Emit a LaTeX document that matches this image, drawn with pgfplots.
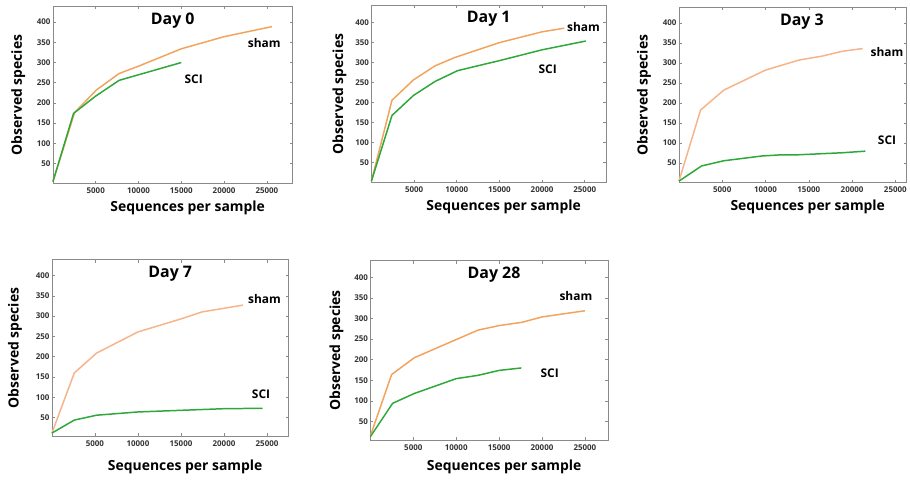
\documentclass[border=0pt]{standalone}
\usepackage{pgfplots}
\pgfplotsset{compat=1.18}
\usepackage{fontspec}
\setmainfont{Open Sans}
\definecolor{shamcol}{HTML}{F2A35E}
\definecolor{shamlight}{HTML}{F6B48A}
\definecolor{scicol}{HTML}{2EA83A}
\definecolor{framecol}{HTML}{8A8A8A}

\tikzset{ann/.style={font=\fontsize{12}{14}\selectfont\bfseries, text=black}}
\pgfplotsset{
  panel/.style={
    scale only axis,
    axis line style={framecol, line width=0.8pt},
    xmin=0, ymin=0,
    xtick={5000,10000,15000,20000,25000},
    ytick={50,100,...,400},
    tick pos=both, tick align=inside,
    major tick length=3bp,
    tick style={framecol, line width=0.5pt},
    scaled x ticks=false,
    /pgf/number format/assume math mode=true,
    /pgf/number format/set thousands separator={},
    tick label style={font=\fontsize{8}{9}\selectfont\bfseries, text=black!80},
    xticklabel style={yshift=-0.5bp},
    yticklabel style={xshift=1bp},
    title style={at={(axis description cs:0.5,1)}, anchor=north, yshift=-9bp,
      font=\fontsize{16}{18}\selectfont\bfseries},
    xlabel={Sequences per sample},
    ylabel={Observed species},
    every axis x label/.style={at={(axis description cs:0.5,0)}, anchor=center,
      yshift=-24bp, xshift=15bp, font=\fontsize{14}{16}\selectfont\bfseries},
    every axis y label/.style={at={(axis description cs:-0.145,0.5)}, anchor=center,
      rotate=90, font=\fontsize{14}{16}\selectfont\bfseries},
    clip=false,
  },
}

\begin{document}
\begin{tikzpicture}
\path (0,0) rectangle (910bp,-481bp);

% Day 0
\begin{axis}[panel, at={(53bp,-184bp)}, anchor=south west,
  width=240bp, height=178bp, xmax=28000, ymax=440, title={Day 0}]
\addplot[shamcol, line width=1.5pt] coordinates {
  (0,5) (2530,176) (5080,232) (7745,273) (10000,291) (15000,334) (20000,364) (25600,389)};
\addplot[scicol, line width=1.5pt] coordinates {
  (0,5) (2410,174) (5000,217) (7745,256) (15000,300)};
\node[ann] at (axis cs:24700,349) {sham};
\node[ann] at (axis cs:16450,259) {SCI};
\end{axis}

% Day 1
\begin{axis}[panel, at={(372bp,-183bp)}, anchor=south west,
  width=235bp, height=178bp, xmax=27500, ymax=444, title={Day 1},
  every axis y label/.append style={at={(axis description cs:-0.136,0.5)}}]
\addplot[shamcol, line width=1.5pt] coordinates {
  (0,4) (2408,206) (4930,257) (7460,292) (9790,313) (15000,350) (20000,377) (22600,386)};
\addplot[scicol, line width=1.5pt] coordinates {
  (0,4) (2408,168) (4930,218) (7460,253) (10100,280) (15000,305) (20000,332) (25130,354)};
\node[ann] at (axis cs:24850,390) {sham};
\node[ann] at (axis cs:20660,284) {SCI};
\end{axis}

% Day 3
\begin{axis}[panel, at={(680bp,-183bp)}, anchor=south west,
  width=228bp, height=176bp, xmax=26300, ymax=440, title={Day 3},
  title style={at={(axis description cs:0.54,1)}},
  every axis y label/.append style={at={(axis description cs:-0.153,0.5)}}]
\addplot[shamlight, line width=1.5pt] coordinates {
  (0,4) (2500,182) (5190,232) (10000,282) (13850,307) (16540,317) (18850,329) (21230,336)};
\addplot[scicol, line width=1.5pt] coordinates {
  (0,4) (2615,42) (5190,55) (9620,67) (11920,70) (13850,70) (18850,75) (21540,79)};
\node[ann] at (axis cs:24040,327) {sham};
\node[ann] at (axis cs:24040,106) {SCI};
\end{axis}

% Day 7
\begin{axis}[panel, at={(52bp,-437bp)}, anchor=south west,
  width=237bp, height=177bp, xmax=27500, ymin=4, ymax=439, title={Day 7},
  every axis x label/.append style={yshift=-7bp},
  every axis y label/.append style={at={(axis description cs:-0.156,0.5)}}]
\addplot[shamlight, line width=1.5pt] coordinates {
  (0,12) (2600,160) (5200,209) (10000,261) (15000,293) (17400,310) (22200,327)};
\addplot[scicol, line width=1.5pt] coordinates {
  (0,12) (2600,44) (5200,56) (10000,64) (15000,68) (20000,72) (24500,73)};
\node[ann] at (axis cs:24700,341) {sham};
\node[ann] at (axis cs:24300,107) {SCI};
\end{axis}

% Day 28
\begin{axis}[panel, at={(371bp,-441bp)}, anchor=south west,
  width=238bp, height=180bp, xmax=27700, ymin=4, ymax=441, title={Day 28},
  title style={at={(axis description cs:0.52,1)}},
  every axis x label/.append style={yshift=-3bp},
  every axis y label/.append style={at={(axis description cs:-0.143,0.5)}}]
\addplot[shamcol, line width=1.5pt] coordinates {
  (0,15) (2470,164) (5130,205) (10000,249) (12550,272) (15000,283) (17680,291) (20000,304) (25000,319)};
\addplot[scicol, line width=1.5pt] coordinates {
  (0,13) (2590,94) (5130,118) (10000,154) (12550,162) (15000,174) (17600,180)};
\node[ann] at (axis cs:23950,354) {sham};
\node[ann] at (axis cs:20900,168) {SCI};
\end{axis}
\end{tikzpicture}
\end{document}
